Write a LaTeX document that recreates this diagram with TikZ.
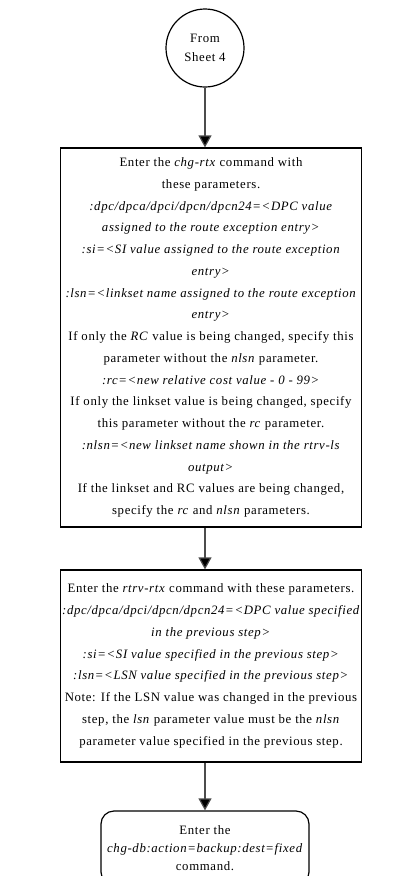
\documentclass[tikz,border=0pt]{standalone}
\usepackage{fontspec}
\setmainfont[LetterSpace=5]{Liberation Serif}
\usetikzlibrary{arrows.meta}
\begin{document}
\begin{tikzpicture}[x=1pt,y=1pt,
  txt/.style={align=center,inner sep=1pt,font=\fontsize{12.8}{21.75}\selectfont},
  stepbox/.style={txt,draw,line width=1.2pt,minimum width=#1},
  flow/.style={draw=black!70,line width=1.2pt,-{Triangle[width=13pt,length=12pt,fill=black]}}]
\useasboundingbox (0,0) rectangle (393,-876);
\node[txt,draw,circle,line width=1.2pt,minimum size=78pt,font=\fontsize{12.8}{19}\selectfont] (from) at (205,-48) {From\\Sheet 4};
\node[stepbox=301pt,minimum height=379pt] (chg) at (211,-337.5) {Enter the \textit{chg-rtx} command with\\
these parameters.\\
\textit{:dpc/dpca/dpci/dpcn/dpcn24=<DPC value}\\
\textit{assigned to the route exception entry>}\\
\textit{:si=<SI value assigned to the route exception}\\
\textit{entry>}\\
\textit{:lsn=<linkset name assigned to the route exception}\\
\textit{entry>}\\
If only the \textit{RC} value is being changed, specify this\\
parameter without the \textit{nlsn} parameter.\\
\textit{:rc=<new relative cost value - 0 - 99>}\\
If only the linkset value is being changed, specify\\
this parameter without the \textit{rc} parameter.\\
\textit{:nlsn=<new linkset name shown in the rtrv-ls}\\
\textit{output>}\\
If the linkset and RC values are being changed,\\
specify the \textit{rc} and \textit{nlsn} parameters.};
\node[stepbox=301pt,minimum height=192pt] (rtrv) at (211,-666) {Enter the \textit{rtrv-rtx} command with these parameters.\\
\textit{:dpc/dpca/dpci/dpcn/dpcn24=<DPC value specified}\\
\textit{in the previous step>}\\
\textit{:si=<SI value specified in the previous step>}\\
\textit{:lsn=<LSN value specified in the previous step>}\\
Note: If the LSN value was changed in the previous\\
step, the \textit{lsn} parameter value must be the \textit{nlsn}\\
parameter value specified in the previous step.};
\node[stepbox=208pt,rounded corners=13pt,minimum height=74pt,font=\fontsize{12.8}{18}\selectfont] (db) at (205,-848) {Enter the\\
\textit{chg-db:action=backup:dest=fixed}\\
command.};
\draw[flow] (from.south) -- (from.south |- chg.north);
\draw[flow] (chg.south -| from.south) -- (rtrv.north -| from.south);
\draw[flow] (rtrv.south -| from.south) -- (db.north);
\end{tikzpicture}
\end{document}
